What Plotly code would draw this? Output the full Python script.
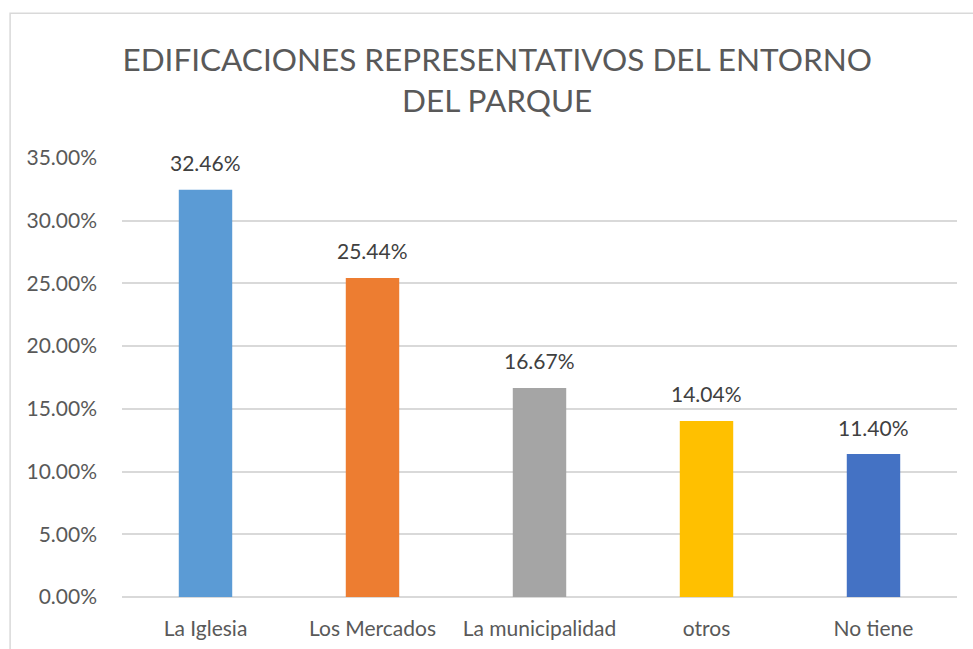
import plotly.graph_objects as go

categories = ["La Iglesia", "Los Mercados", "La municipalidad", "otros", "No tiene"]
values = [32.46, 25.44, 16.67, 14.04, 11.40]
colors = ["#5B9BD5", "#ED7D31", "#A5A5A5", "#FFC000", "#4472C4"]
tick_vals = [0, 5, 10, 15, 20, 25, 30, 35]
tick_text = ["0.00%", "5.00%", "10.00%", "15.00%", "20.00%", "25.00%", "30.00%", "35.00%"]
title_text = "EDIFICACIONES REPRESENTATIVOS DEL ENTORNO<br>DEL PARQUE"

FONT = "Lato, 'Open Sans', sans-serif"

fig = go.Figure(go.Bar(
    x=categories,
    y=values,
    marker=dict(color=colors, line=dict(width=0)),
    hoverinfo="skip",
))

for c, v in zip(categories, values):
    fig.add_annotation(x=c, y=v, text=f"{v:.2f}%", showarrow=False,
                       yanchor="middle", yshift=27,
                       font=dict(family=FONT, size=21, color="#404040"))

fig.update_layout(
    width=973, height=649,
    margin=dict(l=122, r=16, t=158, b=52),
    paper_bgcolor="white", plot_bgcolor="white",
    bargap=0.68,
    showlegend=False,
    title=dict(text=title_text, x=0.511, xanchor="center", y=0.89, yanchor="top",
               font=dict(family=FONT, size=31.5, color="#595959")),
    xaxis=dict(showgrid=False, showline=False, ticks="", ticklabelstandoff=17,
               automargin=False,
               tickfont=dict(family=FONT, size=21, color="#595959")),
    yaxis=dict(range=[0, 35], tickvals=tick_vals, ticktext=tick_text,
               showgrid=True, gridcolor="#D9D9D9", gridwidth=1.5,
               zeroline=True, zerolinecolor="#D9D9D9", zerolinewidth=1.5,
               showline=False, ticks="", ticklabelstandoff=24, automargin=False,
               tickfont=dict(family=FONT, size=21, color="#595959")),
    shapes=[dict(type="rect", xref="paper", yref="paper",
                 x0=-0.134, x1=1.1, y0=-0.3, y1=1.330,
                 line=dict(color="#D9D9D9", width=1.5), fillcolor="rgba(0,0,0,0)",
                 layer="below")],
)

fig.write_html("out.html", config={"displayModeBar": False},
               post_script="document.body.style.margin='0';document.body.style.overflow='hidden';")
